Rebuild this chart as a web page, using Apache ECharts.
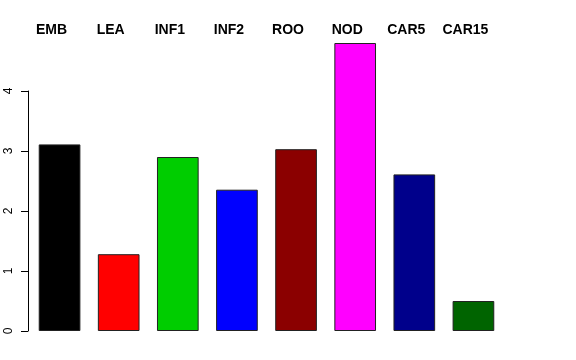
<!DOCTYPE html>
<html><head><meta charset="utf-8">
<script src="https://cdn.jsdelivr.net/npm/echarts@6/dist/echarts.min.js"></script>
<style>html,body{margin:0;padding:0;background:#fff}#c{width:576px;height:360px}</style>
</head><body><div id="c"></div>
<script>
const categories = ['EMB','LEA','INF1','INF2','ROO','NOD','CAR5','CAR15'];
const values = [3.11, 1.28, 2.90, 2.355, 3.03, 4.80, 2.61, 0.50];
const barColors = ['#000000','#FF0000','#00CD00','#0000FF','#8B0000','#FF00FF','#00008B','#006400'];
const yTicks = [0,1,2,3,4];

const chart = echarts.init(document.getElementById('c'), null, {renderer:'canvas'});
chart.setOption({
  animation:false,
  backgroundColor:'#fff',
  grid:{left:30, width:473, top:91, bottom:29},
  xAxis:{
    type:'category', data:categories, position:'top',
    axisLine:{show:false}, axisTick:{show:false},
    axisLabel:{
      interval:0, hideOverlap:false,
      margin:54, fontSize:14, fontWeight:'bold', color:'#000',
      fontFamily:'Liberation Sans, Arial, sans-serif',
      padding:[0,16,0,0]
    }
  },
  yAxis:{
    type:'value', min:yTicks[0], max:yTicks[yTicks.length-1], interval:1, offset:2,
    axisLine:{show:true, lineStyle:{color:'#000', width:1}},
    axisTick:{show:true, length:7, lineStyle:{color:'#000'}},
    splitLine:{show:false},
    axisLabel:{rotate:90, margin:13, fontSize:12, color:'#000',
      fontFamily:'Liberation Sans, Arial, sans-serif'}
  },
  series:[{
    type:'bar', clip:false, barWidth:'70.5%',
    data: values.map((v,i)=>({value:v, itemStyle:{color:barColors[i]}})),
    itemStyle:{borderColor:'#222', borderWidth:1}
  }]
});
</script></body></html>
